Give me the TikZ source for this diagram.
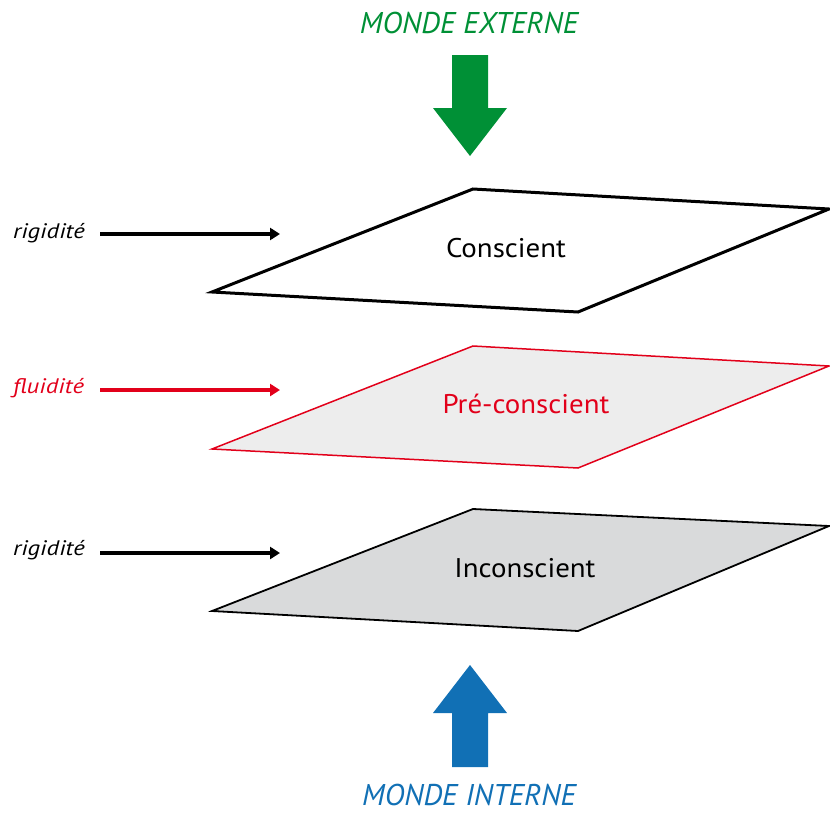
\documentclass[tikz,border=0pt]{standalone}
\usepackage{fontspec}
\setmainfont{PT Sans}
\newfontfamily\planefont[FakeStretch=1.07]{PT Sans}
\newfontfamily\sidefont[FakeStretch=1.18,ItalicFont={PT Sans Italic}]{PT Sans}
\usetikzlibrary{arrows.meta}
\definecolor{mgreen}{HTML}{009036}
\definecolor{mblue}{HTML}{1170B5}
\definecolor{mred}{HTML}{E2001A}
\definecolor{fillmid}{HTML}{EDEDED}
\definecolor{fillbot}{HTML}{D9DADB}
\begin{document}
\begin{tikzpicture}[x=1pt,y=-1pt,
  lbl/.style={font=\sidefont\itshape\fontsize{21}{23}\selectfont, inner sep=0pt, anchor=base west},
  title/.style={font=\itshape\fontsize{30}{32}\selectfont, inner sep=0pt, anchor=base},
  plane/.style={font=\planefont\fontsize{27}{29}\selectfont, inner sep=0pt, anchor=base},
  ptr/.style={line width=3.2pt, -{Triangle[length=10pt,width=12pt]}},
]
\useasboundingbox (0,0) rectangle (830,814);
% big arrows
\fill[mgreen] (452,55) -- (488,55) -- (488,108) -- (507,108) -- (470,156) -- (433,108) -- (452,108) -- cycle;
\fill[mblue] (452,767) -- (488,767) -- (488,713) -- (507,713) -- (470,665) -- (433,713) -- (452,713) -- cycle;
\node[title, text=mgreen] (ext) at (469,33) {MONDE EXTERNE};
\node[title, text=mblue] (int) at (469,805) {MONDE INTERNE};
% planes
\draw[line width=3pt, line join=miter, fill=white] (212,292) -- (473,189) -- (829,209) -- (578,312) -- cycle;
\draw[mred, line width=1.5pt, fill=fillmid] (212,449) -- (473,346) -- (829,366) -- (578,468) -- cycle;
\draw[line width=1.8pt, fill=fillbot] (212,611) -- (473,509) -- (829,526) -- (578,631) -- cycle;
\node[plane] (c) at (506,257) {Conscient};
\node[plane, text=mred] (p) at (526,413) {Pré-conscient};
\node[plane] (i) at (525,577) {Inconscient};
% side labels
\node[lbl] (r1) at (13,238) {rigidité};
\node[lbl, text=mred] (f) at (13,393) {fluidité};
\node[lbl] (r2) at (13,555) {rigidité};
\coordinate (a1) at (280,234);
\coordinate (a2) at (280,390);
\coordinate (a3) at (280,553);
\coordinate (s1) at (100,234);
\coordinate (s2) at (100,390);
\coordinate (s3) at (100,553);
\draw[ptr] (s1) -- (a1);
\draw[ptr, mred] (s2) -- (a2);
\draw[ptr] (s3) -- (a3);
\end{tikzpicture}
\end{document}
